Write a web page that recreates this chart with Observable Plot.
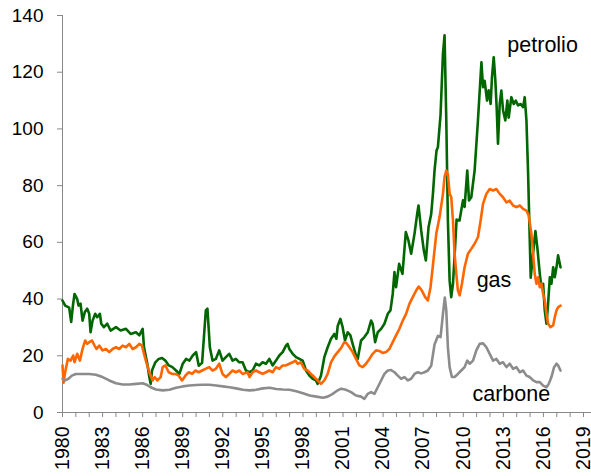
<!DOCTYPE html>
<html><head><meta charset="utf-8">
<script src="https://cdn.jsdelivr.net/npm/d3@7"></script>
<script src="https://cdn.jsdelivr.net/npm/@observablehq/plot@0.6"></script>
<style>body{margin:0;background:#fff} svg{display:block}</style>
</head><body><div id="chart"></div>
<script>
const petrolioAnni = [1980.0,1980.2,1980.5,1980.65,1980.78,1980.9,1981.1,1981.2,1981.35,1981.5,1981.67,1981.85,1982.0,1982.1,1982.25,1982.45,1982.6,1982.8,1982.9,1983.1,1983.35,1983.6,1984.0,1984.35,1984.75,1985.1,1985.5,1985.75,1986.0,1986.1,1986.35,1986.5,1986.6,1986.7,1986.95,1987.2,1987.45,1987.7,1987.95,1988.2,1988.5,1988.75,1989.0,1989.25,1989.5,1989.75,1990.0,1990.2,1990.45,1990.73,1990.85,1991.03,1991.23,1991.48,1991.73,1991.98,1992.23,1992.48,1992.73,1992.98,1993.23,1993.48,1993.73,1993.98,1994.23,1994.48,1994.73,1994.98,1995.23,1995.48,1995.73,1995.98,1996.23,1996.48,1996.73,1996.85,1996.98,1997.23,1997.48,1997.73,1997.98,1998.23,1998.48,1998.73,1998.98,1999.1,1999.35,1999.6,1999.85,2000.1,2000.35,2000.5,2000.6,2000.8,2000.97,2001.15,2001.35,2001.55,2001.72,2001.97,2002.1,2002.35,2002.6,2002.85,2003.1,2003.22,2003.4,2003.6,2003.85,2004.1,2004.35,2004.55,2004.72,2004.85,2004.97,2005.2,2005.45,2005.7,2005.9,2006.1,2006.35,2006.55,2006.65,2006.85,2007.05,2007.2,2007.4,2007.6,2007.73,2007.85,2008.0,2008.1,2008.3,2008.48,2008.6,2008.73,2008.85,2008.98,2009.1,2009.23,2009.35,2009.5,2009.72,2009.98,2010.1,2010.3,2010.43,2010.6,2010.85,2011.1,2011.36,2011.48,2011.6,2011.78,2011.9,2012.05,2012.15,2012.28,2012.4,2012.5,2012.6,2012.73,2012.85,2012.98,2013.15,2013.3,2013.4,2013.6,2013.78,2013.93,2014.1,2014.3,2014.48,2014.6,2014.73,2014.85,2015.05,2015.2,2015.4,2015.55,2015.73,2015.85,2015.98,2016.1,2016.23,2016.35,2016.48,2016.6,2016.73,2016.85,2016.98,2017.1,2017.28];
const petrolioValori = [39.5,37.7,37,31.9,37.7,41.8,40,37.7,38.4,32.4,35.4,36.6,34.8,28.3,32.4,34.8,33.6,34.8,31.3,30.1,31.3,28.9,30.1,28.9,29.5,27.7,28.3,27.2,29.5,23,17.2,12.5,10.1,14.8,17.7,18.9,19.2,18.3,16.6,16.1,14.8,13.6,17.2,18.9,18.3,20.1,21.3,16.5,17.5,36,36.6,23,18.3,18.9,21.9,18.3,19.5,20.7,18.3,18.9,17.7,17.7,14.8,14.2,14.8,17.2,16.6,17.7,17.2,18.9,16.6,18.3,20.1,21.3,23.6,24.2,22.4,20.7,19.5,18.9,18.3,14.8,13,11.9,11.3,10.1,13,19.5,23,26,27.7,26,30.5,33,30.1,25.4,28.3,27.2,24.2,20.1,18.9,25.4,26.6,28.3,32.4,31.3,24.8,28.3,29.5,31.3,34.8,36,41.8,49.5,44.2,52.4,48.9,63.6,60.6,56,63,70,73,64.2,57.1,53.6,65.3,70,77.1,85.3,92.4,93.5,105,126.5,133,103,67.7,46.5,40.7,45.4,55,68,67.7,74.8,72.5,85.3,74.8,75.9,85.3,103,123.5,114.7,117,110,113.6,108.8,118.3,125.3,117.2,107.7,94.8,108.8,113.5,106.5,103,110,104,111.2,108.8,110,108.3,108.8,107.7,111.2,103,85,47.5,55,64,58,48.9,44.2,45.4,36,31.3,38.3,47.7,45.4,51.2,47.7,51.2,55.4,51.2];

const gasAnni = [1980.0,1980.08,1980.2,1980.4,1980.6,1980.8,1980.9,1981.1,1981.3,1981.5,1981.7,1981.85,1982.0,1982.2,1982.4,1982.55,1982.75,1983.0,1983.25,1983.5,1983.75,1984.0,1984.25,1984.5,1984.75,1985.0,1985.25,1985.5,1985.75,1985.95,1986.1,1986.3,1986.5,1986.75,1986.9,1987.1,1987.35,1987.5,1987.7,1987.95,1988.2,1988.45,1988.7,1988.95,1989.2,1989.45,1989.7,1989.95,1990.2,1990.45,1990.7,1990.98,1991.23,1991.48,1991.73,1991.98,1992.23,1992.48,1992.73,1992.98,1993.23,1993.48,1993.85,1994.0,1994.23,1994.48,1994.73,1994.98,1995.23,1995.48,1995.73,1995.98,1996.23,1996.48,1996.73,1996.98,1997.23,1997.43,1997.6,1997.85,1998.1,1998.35,1998.6,1998.85,1999.1,1999.35,1999.6,1999.85,2000.1,2000.35,2000.6,2000.85,2001.1,2001.23,2001.48,2001.72,2001.97,2002.22,2002.47,2002.72,2002.97,2003.22,2003.47,2003.72,2003.97,2004.22,2004.47,2004.72,2004.97,2005.22,2005.47,2005.72,2005.97,2006.22,2006.47,2006.67,2006.9,2007.15,2007.35,2007.55,2007.73,2007.98,2008.23,2008.48,2008.6,2008.73,2008.85,2008.98,2009.1,2009.23,2009.35,2009.48,2009.6,2009.73,2009.9,2010.1,2010.35,2010.6,2010.85,2011.1,2011.3,2011.48,2011.73,2011.98,2012.23,2012.48,2012.73,2012.98,2013.23,2013.48,2013.73,2013.98,2014.23,2014.48,2014.73,2014.9,2015.1,2015.23,2015.35,2015.48,2015.6,2015.73,2015.85,2015.98,2016.1,2016.23,2016.35,2016.53,2016.73,2016.85,2016.98,2017.1,2017.28];
const gasValori = [16.6,10.5,14.2,18.9,18.3,20.1,17.7,20.7,18.3,22.4,25.4,24.2,24.8,25.4,23.6,22.4,23.6,21.9,22.4,21.3,22.4,23,22.4,23.6,23,24.2,22.4,23,24.2,23.6,20.7,17.2,14.2,11.3,12.5,11.3,12.5,16,16.6,14.2,13.6,13.6,13,11.3,13,14.2,13.6,14.8,14.2,14.8,15.4,16,14.8,15.4,17.2,13.6,12.5,13.6,14.8,14.2,14.8,13.6,14.2,12.5,14.2,14.8,14.2,13.6,14.2,14.8,14.2,16,15.4,16.6,16.6,17.2,17.7,18.3,17.2,17.7,15.4,14.8,13.6,12.5,11.3,10.1,11.3,13.6,17.7,19.8,21.3,22.7,24.8,24.6,23,21.3,18.9,16.6,16,17.2,18.9,20.7,21.9,21.7,21,21.3,22.4,24.8,27.2,29.5,32.4,34.8,38.3,40.7,43,44.4,43,40.7,39.5,44.2,52,63,69,77.1,83,85.3,84,77.1,76,67.7,56,48.9,43,41.3,45.4,51.2,56,57.7,59.5,61.8,67.7,73.6,77.1,78.8,78.3,78.8,77.1,75.9,74.1,74.7,73,72.4,73,71.8,71.2,69.5,63,56,48.9,45.4,47.7,44.2,45.4,41.8,39.5,34.8,31.3,30.1,30.7,33.6,36,37.1,37.7];

const carboneAnni = [1980.0,1980.2,1980.45,1980.7,1981.0,1981.5,1982.0,1982.5,1983.0,1983.5,1984.0,1984.5,1985.0,1985.5,1986.0,1986.25,1986.6,1987.0,1987.5,1988.0,1988.5,1989.0,1989.5,1990.0,1990.5,1991.0,1991.5,1992.0,1992.5,1993.0,1993.5,1994.0,1994.5,1995.0,1995.5,1996.0,1996.5,1997.0,1997.5,1998.0,1998.5,1999.0,1999.5,1999.85,2000.2,2000.5,2000.85,2001.23,2001.6,2001.97,2002.35,2002.6,2002.85,2003.1,2003.35,2003.6,2003.85,2004.1,2004.35,2004.6,2004.85,2005.1,2005.35,2005.6,2005.85,2006.1,2006.35,2006.6,2006.85,2007.1,2007.35,2007.6,2007.85,2008.1,2008.3,2008.48,2008.62,2008.73,2008.85,2008.98,2009.15,2009.35,2009.6,2009.85,2010.1,2010.3,2010.48,2010.73,2010.98,2011.23,2011.48,2011.73,2011.98,2012.23,2012.48,2012.73,2012.98,2013.23,2013.48,2013.73,2013.98,2014.23,2014.48,2014.73,2014.98,2015.23,2015.48,2015.73,2015.98,2016.23,2016.4,2016.6,2016.8,2016.98,2017.1,2017.28];
const carboneValori = [11.9,11.3,11.9,13,13.6,13.6,13.6,13.3,12.5,11.3,10.3,9.9,9.9,10.1,10.3,9.9,8.9,8.1,7.8,8,8.7,9.2,9.5,9.7,9.8,9.8,9.5,9.2,8.9,8.5,8,7.8,8,8.5,8.7,8.3,8.1,8,7.5,6.8,6,5.6,5.2,5.6,6.5,7.5,8.4,8,7.2,6,5.6,4.8,6.6,7.2,6.6,8.9,11.3,13.6,14.8,15,14.2,13,11.9,12.5,11.3,11.9,13.6,14.2,13.8,14.2,14.8,16.5,24,27,26.6,34.8,40.5,36,23,16,12.5,12.5,13.6,14.8,16,18.3,17.2,18.3,21.9,24.2,24.4,23,20.7,18.3,18.9,17.2,17.7,16,17.2,15.4,16,14.2,14.8,13,12.5,11.3,10.7,10.7,9.5,8.9,10.1,12.5,16,17.2,16.6,14.8];

const serieNomi = ["petrolio", "gas", "carbone"];
const serieColori = ["#006600", "#ff6600", "#8c8c8c"];
const yTicks = [0, 20, 40, 60, 80, 100, 120, 140];
const xAnni = d3.range(1980, 2020);

const etichetteTesto = ["petrolio", "gas", "carbone"];
const etichetteAnno = [2013.3, 2012.3, 2013.6];
const etichetteValore = [129.5, 46.7, 6.5];
const etichetteAncora = ["start", "middle", "middle"];

const serieDati = [
  [petrolioAnni, petrolioValori],
  [gasAnni, gasValori],
  [carboneAnni, carboneValori]
];
const rows = serieDati.flatMap(([anni, valori], k) =>
  anni.map((a, i) => ({serie: serieNomi[k], anno: a, valore: valori[i]})));
const etichette = etichetteTesto.map((t, i) => ({testo: t, anno: etichetteAnno[i], valore: etichetteValore[i], ancora: etichetteAncora[i]}));

const chart = Plot.plot({
  width: 591,
  height: 476,
  marginTop: 15,
  marginBottom: 64,
  marginLeft: 62,
  marginRight: 0,
  style: {fontFamily: "'Liberation Sans', Arial, sans-serif", fontSize: "19px", color: "#000", background: "#fff"},
  x: {domain: [1980, 2019.6]},
  y: {domain: [0, 140]},
  color: {domain: serieNomi, range: serieColori},
  marks: [
    Plot.axisY({ticks: yTicks, tickSize: 5, tickPadding: 14, stroke: "#888", fill: "#000", fontSize: 19, label: null}),
    Plot.axisX({ticks: xAnni, tickSize: 5, tickPadding: 9, tickRotate: -90, stroke: "#888", fill: "#000", fontSize: 19.5, label: null,
      tickFormat: d => (d % 3 === 0 ? String(d) : "")}),
    Plot.ruleX([1980], {stroke: "#888", strokeWidth: 1}),
    Plot.ruleY([0], {stroke: "#888", strokeWidth: 1}),
    Plot.line(rows, {x: "anno", y: "valore", z: "serie", stroke: "serie", strokeWidth: 2.6, strokeLinejoin: "round"}),
    ...etichette.map(e => Plot.text([e], {x: "anno", y: "valore", text: "testo", textAnchor: e.ancora, fill: "#000", fontSize: 21.5}))
  ]
});
document.getElementById("chart").append(chart);
</script>
</body></html>
